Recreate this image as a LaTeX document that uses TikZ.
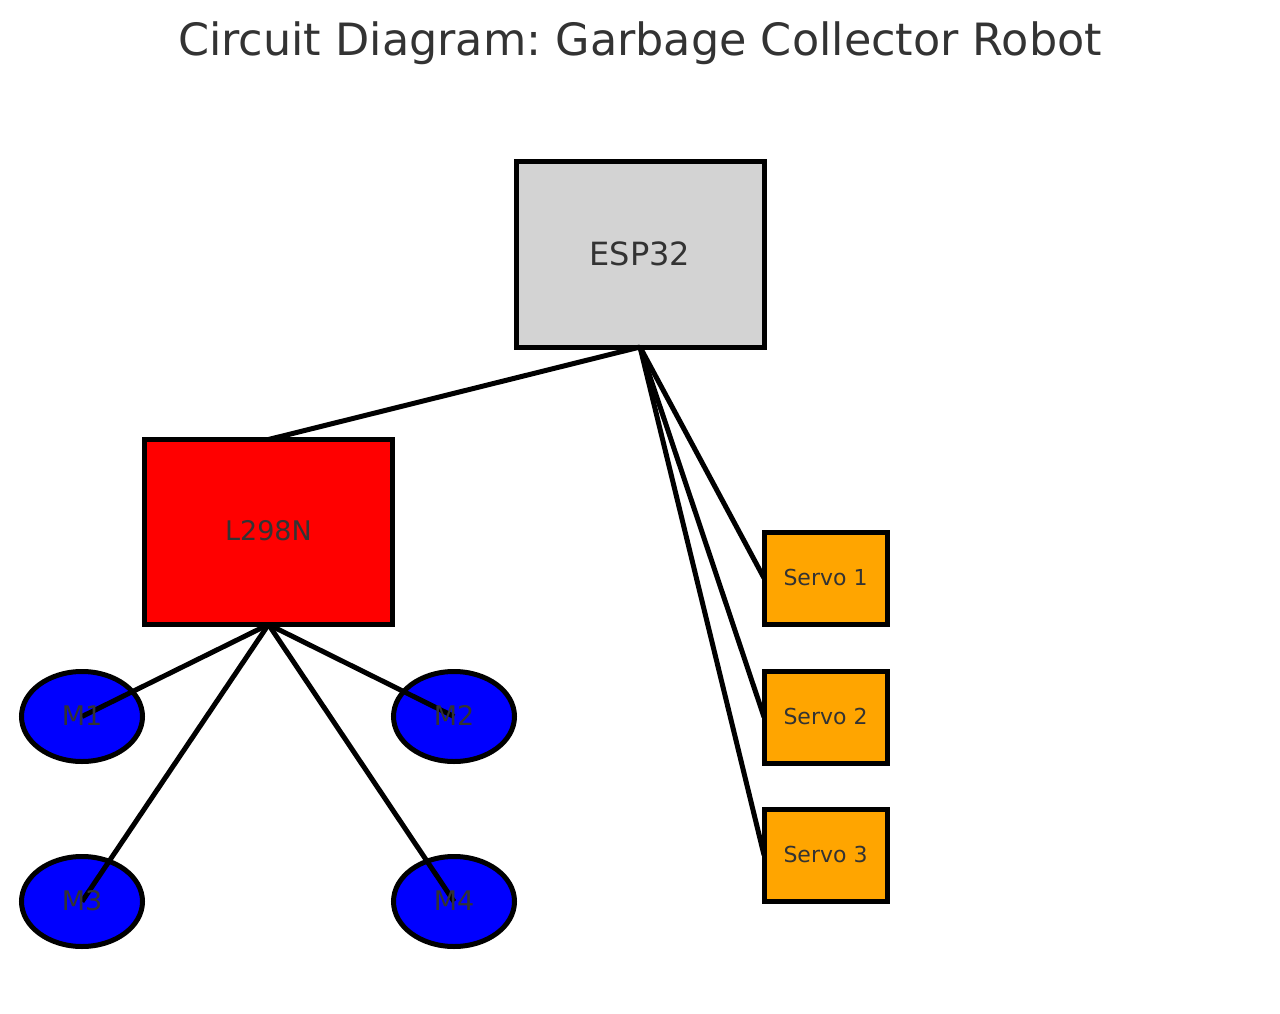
\documentclass[tikz,border=0pt]{standalone}
\usepackage{fontspec}
\setmainfont{DejaVu Sans}
\usetikzlibrary{shapes.geometric}
\definecolor{txt}{HTML}{333333}
\definecolor{espgray}{HTML}{D3D3D3}
\definecolor{servoorange}{HTML}{FFA500}
\frenchspacing
\begin{document}
\begin{tikzpicture}[x=1pt,y=-1pt,
  part/.style={draw=black,line width=5pt,inner sep=0pt,outer sep=0pt},
  bigbox/.style={part,rectangle,minimum width=248pt,minimum height=185pt},
  servobox/.style={part,rectangle,fill=servoorange,minimum width=123pt,minimum height=92pt},
  motor/.style={part,ellipse,fill=blue,minimum width=121pt,minimum height=90pt},
  wire/.style={draw=black,line width=5pt},
  lbl/.style={text=txt,inner sep=0pt,anchor=base},
]
\useasboundingbox (0,0) rectangle (1280,1014);
% title
\node[lbl,font=\fontsize{44.5}{50}\selectfont] (title) at (640,56) {Circuit Diagram: Garbage Collector Robot};
% shapes
\node[bigbox,fill=espgray] (esp) at (640,254.5) {};
\node[bigbox,fill=red] (drv) at (268.5,532) {};
\node[servobox] (s1) at (825.5,578) {};
\node[servobox] (s2) at (825.5,717) {};
\node[servobox] (s3) at (825.5,855) {};
\node[motor] (m1) at (82,716.5) {};
\node[motor] (m2) at (454,716.5) {};
\node[motor] (m3) at (82,901.5) {};
\node[motor] (m4) at (454,901.5) {};
% wires
\draw[wire] (esp.south) -- (drv.north);
\draw[wire] (esp.south) -- (s1.west);
\draw[wire] (esp.south) -- (s2.west);
\draw[wire] (esp.south) -- (s3.west);
\draw[wire] (drv.south) -- (m1.center);
\draw[wire] (drv.south) -- (m2.center);
\draw[wire] (drv.south) -- (m3.center);
\draw[wire] (drv.south) -- (m4.center);
% labels
\node[lbl,font=\fontsize{32}{38}\selectfont] (tesp) at ([yshift=-10.5pt]esp.center) {ESP32};
\node[lbl,font=\fontsize{27}{32}\selectfont] (tdrv) at ([yshift=-8.7pt]drv.center) {L298N};
\node[lbl,font=\fontsize{22}{26}\selectfont] (ts1) at ([yshift=-7pt]s1.center) {Servo 1};
\node[lbl,font=\fontsize{22}{26}\selectfont] (ts2) at ([yshift=-7pt]s2.center) {Servo 2};
\node[lbl,font=\fontsize{22}{26}\selectfont] (ts3) at ([yshift=-7pt]s3.center) {Servo 3};
\node[lbl,font=\fontsize{27}{32}\selectfont] (tm1) at ([yshift=-9.2pt]m1.center) {M1};
\node[lbl,font=\fontsize{27}{32}\selectfont] (tm2) at ([yshift=-9.2pt]m2.center) {M2};
\node[lbl,font=\fontsize{27}{32}\selectfont] (tm3) at ([yshift=-9.2pt]m3.center) {M3};
\node[lbl,font=\fontsize{27}{32}\selectfont] (tm4) at ([yshift=-9.2pt]m4.center) {M4};
\end{tikzpicture}
\end{document}
